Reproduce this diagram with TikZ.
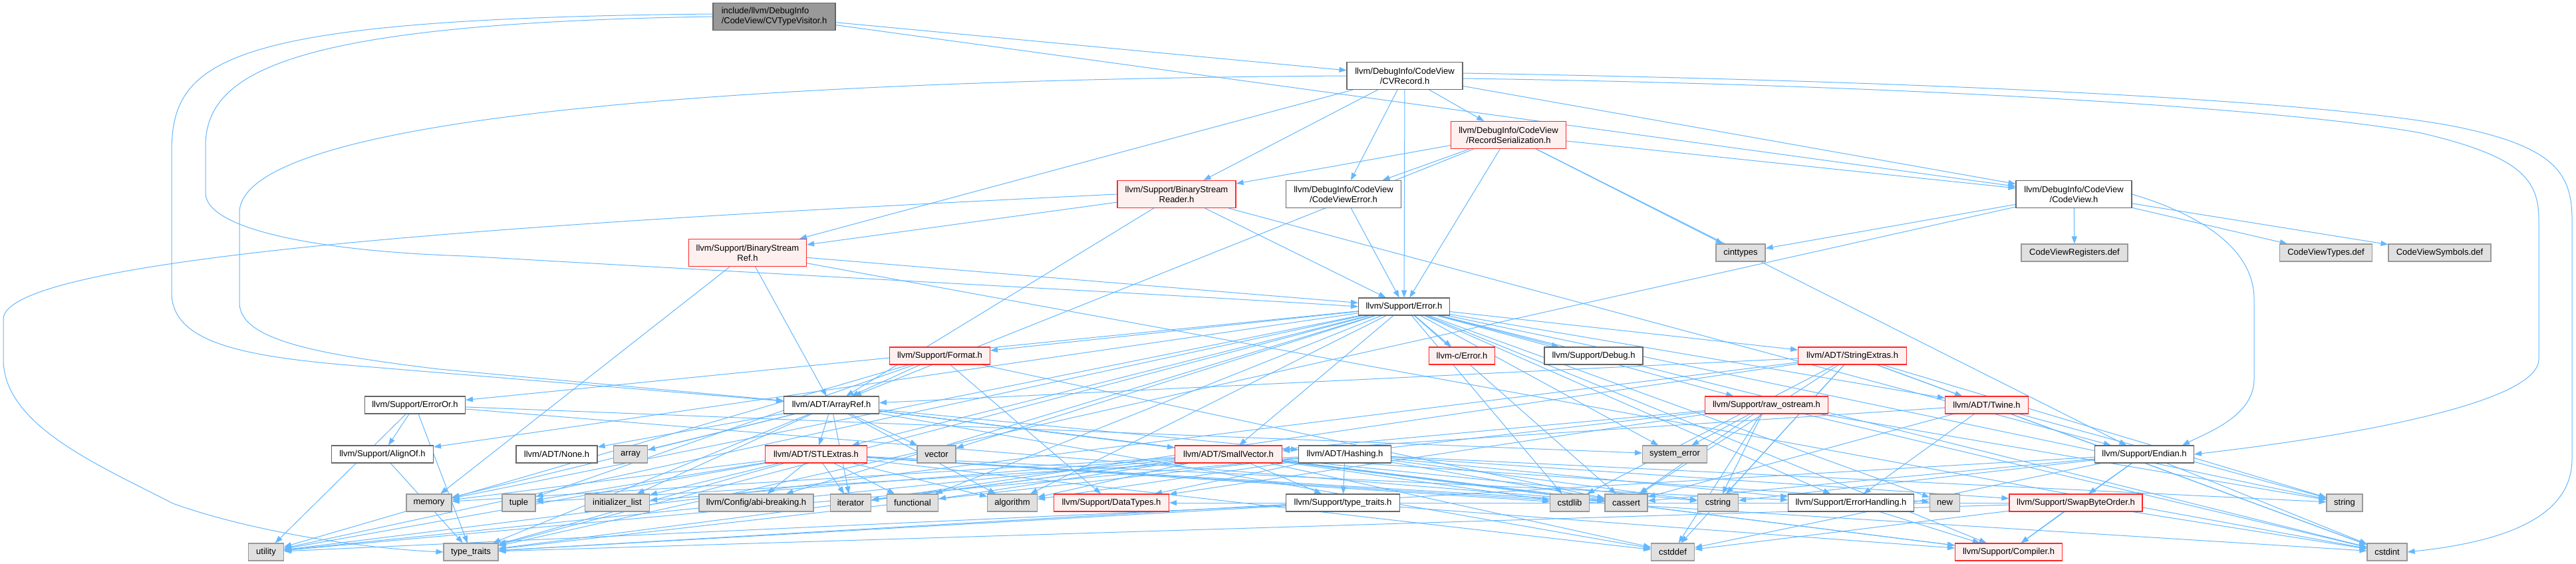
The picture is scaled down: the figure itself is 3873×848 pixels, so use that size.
\documentclass[tikz,border=0pt]{standalone}
\usepackage{fontspec}
\setmainfont{Liberation Sans}
\usetikzlibrary{arrows.meta, backgrounds}
\definecolor{edgeblue}{RGB}{99,184,255}
\definecolor{hdrline}{RGB}{102,102,102}
\definecolor{redline}{RGB}{255,40,40}
\definecolor{redfill}{RGB}{255,240,240}
\definecolor{sysline}{RGB}{153,153,153}
\definecolor{sysfill}{RGB}{224,224,224}
\definecolor{rootfill}{RGB}{153,153,153}
\tikzset{
  box/.style={rectangle, draw, line width=1.1pt, align=center, inner sep=0pt,
              minimum height=26pt, font=\fontsize{13}{15}\selectfont},
  hdr/.style={box, draw=hdrline, fill=white},
  redhdr/.style={box, draw=redline, fill=redfill},
  sys/.style={box, draw=sysline, fill=sysfill},
  rootnode/.style={box, draw=hdrline, fill=rootfill, align=left},
  twoline/.style={minimum height=41pt},
  dep/.style={draw=edgeblue, line width=1pt, -{Triangle[length=11pt,width=8pt]}},
}

\begin{document}
\begin{tikzpicture}[x=1pt, y=-1pt]
  \useasboundingbox (0,0) rectangle (3873,848);
  \node[rootnode, twoline, minimum width=184pt] (root) at (1164,25) {include/llvm/DebugInfo\\/CodeView/CVTypeVisitor.h};
  \node[hdr, twoline, minimum width=174pt] (cvrecord) at (2112,114) {llvm/DebugInfo/CodeView\\/CVRecord.h};
  \node[redhdr, twoline, minimum width=173pt] (recser) at (2268,203) {llvm/DebugInfo/CodeView\\/RecordSerialization.h};
  \node[hdr, twoline, minimum width=173pt] (cverror) at (2020,292) {llvm/DebugInfo/CodeView\\/CodeViewError.h};
  \node[redhdr, twoline, minimum width=178pt] (bsreader) at (1769,292) {llvm/Support/BinaryStream\\Reader.h};
  \node[hdr, twoline, minimum width=174pt] (codeview) at (3118,292) {llvm/DebugInfo/CodeView\\/CodeView.h};
  \node[redhdr, twoline, minimum width=177pt] (bsref) at (1124,380) {llvm/Support/BinaryStream\\Ref.h};
  \node[sys, minimum width=74pt] (cinttypes) at (2617,380) {cinttypes};
  \node[sys, minimum width=160pt] (cvregs) at (3119,380) {CodeViewRegisters.def};
  \node[sys, minimum width=139pt] (cvtypes) at (3497,380) {CodeViewTypes.def};
  \node[sys, minimum width=154pt] (cvsyms) at (3668,380) {CodeViewSymbols.def};
  \node[hdr, minimum width=137pt] (error) at (2111,461) {llvm/Support/Error.h};
  \node[redhdr, minimum width=99pt] (cerror) at (2198,535) {llvm-c/Error.h};
  \node[hdr, minimum width=148pt] (debug) at (2396,535) {llvm/Support/Debug.h};
  \node[redhdr, minimum width=151pt] (format) at (1413,535) {llvm/Support/Format.h};
  \node[redhdr, minimum width=163pt] (strext) at (2785,535) {llvm/ADT/StringExtras.h};
  \node[hdr, minimum width=151pt] (erroror) at (624,609) {llvm/Support/ErrorOr.h};
  \node[hdr, minimum width=143pt] (arrayref) at (1250,609) {llvm/ADT/ArrayRef.h};
  \node[redhdr, minimum width=185pt] (rawos) at (2656,609) {llvm/Support/raw\_ostream.h};
  \node[redhdr, minimum width=125pt] (twine) at (2987,609) {llvm/ADT/Twine.h};
  \node[hdr, minimum width=153pt] (alignof) at (575,683) {llvm/Support/AlignOf.h};
  \node[hdr, minimum width=122pt] (none) at (837,683) {llvm/ADT/None.h};
  \node[sys, minimum width=51pt] (array) at (948,683) {array};
  \node[redhdr, minimum width=153pt] (stlext) at (1227,683) {llvm/ADT/STLExtras.h};
  \node[sys, minimum width=58pt] (vector) at (1408,683) {vector};
  \node[redhdr, minimum width=161pt] (smallvec) at (1847,683) {llvm/ADT/SmallVector.h};
  \node[hdr, minimum width=139pt] (hashing) at (2022,683) {llvm/ADT/Hashing.h};
  \node[sys, minimum width=97pt] (syserr) at (2518,683) {system\_error};
  \node[hdr, minimum width=149pt] (endian) at (3224,683) {llvm/Support/Endian.h};
  \node[sys, minimum width=68pt] (memory) at (645,756) {memory};
  \node[sys, minimum width=50pt] (tuple) at (780,756) {tuple};
  \node[sys, minimum width=97pt] (initlist) at (928,756) {initializer\_list};
  \node[sys, minimum width=172pt] (abi) at (1137,756) {llvm/Config/abi-breaking.h};
  \node[sys, minimum width=61pt] (iterator) at (1279,756) {iterator};
  \node[sys, minimum width=77pt] (functional) at (1372,756) {functional};
  \node[sys, minimum width=75pt] (algorithm) at (1522,756) {algorithm};
  \node[redhdr, minimum width=173pt] (datatypes) at (1671,756) {llvm/Support/DataTypes.h};
  \node[hdr, minimum width=171pt] (lltraits) at (2019,756) {llvm/Support/type\_traits.h};
  \node[sys, minimum width=59pt] (cstdlib) at (2360,756) {cstdlib};
  \node[sys, minimum width=64pt] (cassert) at (2445,756) {cassert};
  \node[sys, minimum width=61pt] (cstring) at (2583,756) {cstring};
  \node[hdr, minimum width=189pt] (errhandling) at (2783,756) {llvm/Support/ErrorHandling.h};
  \node[sys, minimum width=45pt] (new) at (2924,756) {new};
  \node[redhdr, minimum width=200pt] (swapbyte) at (3121,756) {llvm/Support/SwapByteOrder.h};
  \node[sys, minimum width=54pt] (string) at (3525,756) {string};
  \node[sys, minimum width=53pt] (utility) at (400,830) {utility};
  \node[sys, minimum width=82pt] (typetraits) at (708,830) {type\_traits};
  \node[sys, minimum width=65pt] (cstddef) at (2515,830) {cstddef};
  \node[redhdr, minimum width=161pt] (compiler) at (3020,830) {llvm/Support/Compiler.h};
  \node[sys, minimum width=60pt] (cstdint) at (3589,830) {cstdint};

  \begin{scope}[on background layer]
    \fill[white] (0,0) rectangle (3873,848);
    \draw[dep] (root) -- (cvrecord);
    \draw[dep] (root) -- (codeview);
    \draw[dep] (root.west) .. controls (430,35) and (309,110) .. (309,220) -- (309,290) .. controls (309,345) and (480,378) .. (700,385) .. controls (1300,420) and (1800,445) .. (error.west);
    \draw[dep] ([yshift=4pt]root.west) .. controls (330,28) and (258,90) .. (258,230) -- (258,440) .. controls (258,520) and (380,538) .. (560,552) -- (arrayref);
    \foreach \t in {recser,cverror,bsreader,bsref,error,codeview}
      \draw[dep] (cvrecord) -- (\t);
    \draw[dep] (cvrecord.west) .. controls (1400,118) and (360,150) .. (360,320) -- (360,455) .. controls (360,510) and (470,532) .. (660,555) -- (arrayref);
    \draw[dep] ([yshift=4pt]cvrecord.east) .. controls (2900,122) and (3480,150) .. (3690,190) .. controls (3840,220) and (3867,260) .. (3867,330) -- (3867,690) .. controls (3867,780) and (3760,815) .. (cstdint.east);
    \draw[dep] ([yshift=-4pt]cvrecord.east) .. controls (2900,128) and (3450,165) .. (3640,200) .. controls (3790,235) and (3817,270) .. (3817,330) -- (3817,540) .. controls (3817,610) and (3500,660) .. (endian.east);
    \foreach \t in {cverror,error,arrayref,bsreader,codeview,endian,cinttypes}
      \draw[dep] (recser) -- (\t);
    \draw[dep] (cverror) -- (error);
    \foreach \t in {bsref,arrayref,error,endian}
      \draw[dep] (bsreader) -- (\t);
    \draw[dep] (bsreader.west) .. controls (900,330) and (5,380) .. (5,480) -- (5,540) .. controls (5,640) and (150,700) .. (260,757) .. controls (380,800) and (550,825) .. (typetraits.west);
    \foreach \t in {cinttypes,cvregs,cvtypes,cvsyms,typetraits}
      \draw[dep] (codeview) -- (\t);
    \draw[dep] (codeview.east) .. controls (3300,320) and (3389,370) .. (3389,450) -- (3389,570) .. controls (3389,625) and (3320,650) .. ([xshift=-18pt]endian.north east);
    \foreach \t in {arrayref,error,cstdint,memory}
      \draw[dep] (bsref) -- (\t);
    \foreach \t in {cerror,stlext,smallvec,strext,twine,abi,alignof,compiler,debug,errhandling,erroror,format,rawos,algorithm,cassert,cstdint,cstdlib,functional,memory,new,string,syserr,typetraits,utility,vector}
      \draw[dep] (error) -- (\t);
    \foreach \t in {alignof,cassert,syserr,typetraits,utility}
      \draw[dep] (erroror) -- (\t);
    \foreach \t in {hashing,none,smallvec,stlext,compiler,algorithm,array,cassert,cstddef,initlist,iterator,memory,typetraits,vector}
      \draw[dep] (arrayref) -- (\t);
    \draw[dep] (alignof) -- (typetraits);
    \foreach \t in {abi,errhandling,algorithm,cassert,cstddef,cstdint,cstdlib,functional,initlist,iterator,memory,tuple,typetraits,utility}
      \draw[dep] (stlext) -- (\t);
    \foreach \t in {compiler,lltraits,algorithm,cassert,cstddef,cstdlib,cstring,functional,initlist,iterator,memory,new,typetraits,utility}
      \draw[dep] (smallvec) -- (\t);
    \foreach \t in {datatypes,errhandling,swapbyte,lltraits,algorithm,cassert,cstring,string,tuple,utility}
      \draw[dep] (hashing) -- (\t);
    \foreach \t in {compiler,typetraits,utility}
      \draw[dep] (lltraits) -- (\t);
    \draw[dep] (errhandling) -- (compiler);
    \foreach \t in {compiler,swapbyte,cassert,cstddef,cstdint,cstring,typetraits}
      \draw[dep] (endian) -- (\t);
    \foreach \t in {compiler,datatypes,cstddef,cstdint,typetraits}
      \draw[dep] (swapbyte) -- (\t);
    \foreach \t in {arrayref,twine,cassert,cstddef,cstdint,cstdlib,cstring,iterator,string,utility}
      \draw[dep] (strext) -- (\t);
    \foreach \t in {smallvec,errhandling,cassert,cstdint,string}
      \draw[dep] (twine) -- (\t);
    \foreach \t in {smallvec,datatypes,cassert,cstddef,cstdint,cstring,string,syserr,typetraits}
      \draw[dep] (rawos) -- (\t);
    \foreach \t in {arrayref,datatypes,cassert,tuple,utility}
      \draw[dep] (format) -- (\t);
  \end{scope}
\end{tikzpicture}
\end{document}
